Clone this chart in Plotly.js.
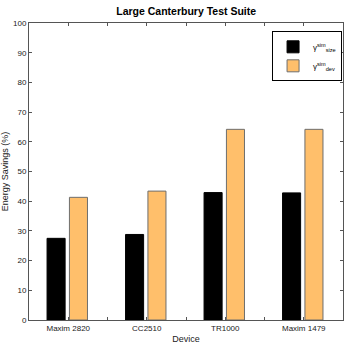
<!DOCTYPE html>
<html>
<head>
<meta charset="utf-8">
<script src="https://cdn.plot.ly/plotly-3.0.1.min.js"></script>
<style>
  html, body { margin: 0; padding: 0; background: #fff; }
  #chart { width: 346px; height: 346px; }
</style>
</head>
<body>
<div id="chart"></div>
<script>
// Energy savings per device, two simulated measures.
const DEVICES = ["Maxim 2820", "CC2510", "TR1000", "Maxim 1479"];
const SIZE_SAVINGS = [27.5, 28.8, 42.9, 42.8];
const DEV_SAVINGS = [41.3, 43.4, 64.2, 64.2];
const Y_TICKS = [0, 10, 20, 30, 40, 50, 60, 70, 80, 90, 100];

const FONT = "Liberation Sans, Arial, Helvetica, sans-serif";
const AXIS_COLOR = "#555";
const xPos = DEVICES.map((_, i) => i + 1);

const traces = [
  {
    x: xPos, y: SIZE_SAVINGS, type: "bar", name: "γ<sup>sim</sup><sub>size</sub>",
    width: 0.23, offset: -0.27,
    marker: { color: "#000000", line: { color: "#000000", width: 1 } },
  },
  {
    x: xPos, y: DEV_SAVINGS, type: "bar", name: "γ<sup>sim</sup><sub>dev</sub>",
    width: 0.23, offset: 0.015,
    marker: { color: "#FFBF6B", line: { color: "#6e6e6e", width: 1 } },
  },
];

const axisBase = {
  showline: true, linecolor: AXIS_COLOR, linewidth: 1, mirror: "ticks",
  ticks: "inside", ticklen: 3, tickcolor: AXIS_COLOR,
  showgrid: false, zeroline: false,
  tickfont: { family: FONT, size: 8, color: "#222" },
};

const layout = {
  width: 346, height: 346,
  margin: { l: 29, r: 3, t: 23, b: 26 },
  paper_bgcolor: "#fff", plot_bgcolor: "#fff",
  font: { family: FONT, color: "#222" },
  title: {
    text: "<b>Large Canterbury Test Suite</b>",
    font: { family: FONT, size: 10.5, color: "#000" },
    x: 0.538, xanchor: "center", y: 0.968, yanchor: "middle",
  },
  barmode: "overlay",
  showlegend: true,
  legend: {
    x: 0.997, xanchor: "right", y: 0.972, yanchor: "top",
    bgcolor: "#fff", bordercolor: "#000", borderwidth: 1,
    font: { family: FONT, size: 8, color: "#000" },
    tracegroupgap: 0, itemwidth: 30,
  },
  xaxis: Object.assign({}, axisBase, {
    range: [0.5, 4.5],
    tickvals: [1, 1.5, 2, 2.5, 3, 3.5, 4],
    ticktext: [DEVICES[0], "", DEVICES[1], "", DEVICES[2], "", DEVICES[3]],
    title: { text: "Device", font: { family: FONT, size: 9, color: "#222" }, standoff: 4 },
  }),
  yaxis: Object.assign({}, axisBase, {
    range: [0, 100],
    tickvals: Y_TICKS,
    title: { text: "Energy Savings (%)", font: { family: FONT, size: 9, color: "#222" }, standoff: 6 },
  }),
};

Plotly.newPlot("chart", traces, layout, { staticPlot: true });
</script>
</body>
</html>
